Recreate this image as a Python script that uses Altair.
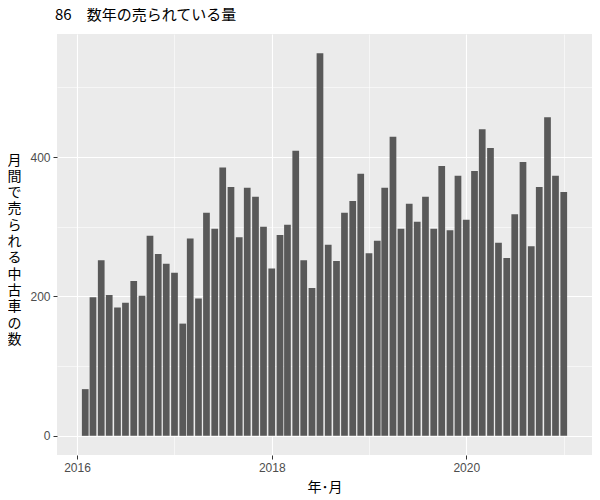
import altair as alt
import pandas as pd

# Months (first of each month, 2016-02 .. 2021-01)
months = []
for y in range(2016, 2022):
    for m in range(1, 13):
        if (y == 2016 and m == 1) or (y == 2021 and m > 1):
            continue
        months.append(f"{y}-{m:02d}-01")

counts = [67, 199, 252, 202, 184, 191, 222, 201, 287, 261, 247, 234,
          161, 283, 197, 320, 297, 385, 357, 285, 356, 343, 300, 240,
          288, 303, 409, 252, 212, 549, 274, 251, 320, 337, 376, 262,
          280, 356, 429, 297, 333, 307, 343, 297, 387, 295, 373, 310,
          380, 440, 413, 277, 255, 318, 393, 272, 357, 457, 373, 350]

year_ticks = [2016, 2017, 2018, 2019, 2020, 2021]
y_ticks = [0, 100, 200, 300, 400, 500]

title_text = "86　数年の売られている量"
x_title = "年･月"
y_title_chars = list("月間で売られる中古車の数")

df = pd.DataFrame({"month": months, "count": counts})

half_bar_days = 12.6  # ggplot default width 0.9 * 28-day resolution / 2

x_axis = alt.Axis(
    values=[alt.DateTime(year=y, month=1, date=1, utc=True) for y in year_ticks],
    labelExpr="utcyear(datum.value) % 2 == 0 ? utcFormat(datum.value, '%Y') : ''",
    gridColor="white",
    gridWidth={"condition": {"test": "utcyear(datum.value) % 2 == 0", "value": 1.1}, "value": 0.55},
    tickOpacity={"condition": {"test": "utcyear(datum.value) % 2 == 0", "value": 1}, "value": 0},
    tickColor="#333333",
    tickSize=4,
    labelPadding=3,
    labelColor="#4D4D4D",
    labelFontSize=12,
    labelFont="Liberation Sans",
    domain=False,
    title=x_title,
    titleFont="Noto Sans CJK JP",
    titleFontSize=14,
    titleFontWeight="normal",
    titleColor="black",
    titlePadding=7,
)

y_axis = alt.Axis(
    values=y_ticks,
    labelExpr="datum.value % 200 == 0 ? datum.label : ''",
    gridColor="white",
    gridWidth={"condition": {"test": "datum.value % 200 == 0", "value": 1.1}, "value": 0.55},
    tickOpacity={"condition": {"test": "datum.value % 200 == 0", "value": 1}, "value": 0},
    tickColor="#333333",
    tickSize=4,
    labelPadding=3,
    labelColor="#4D4D4D",
    labelFontSize=12,
    labelFont="Liberation Sans",
    domain=False,
    title=y_title_chars,
    titleAngle=0,
    titleFont="Noto Sans CJK JP",
    titleFontSize=14,
    titleFontWeight="normal",
    titleColor="black",
    titleLineHeight=16.3,
    titleAlign="center",
    titleBaseline="top",
    titleX=-43,
    titleY=119,
)

chart = (
    alt.Chart(df)
    .transform_calculate(
        start=f"toDate(datum.month) - {half_bar_days} * 86400000",
        end=f"toDate(datum.month) + {half_bar_days} * 86400000",
    )
    .mark_bar(color="#595959")
    .encode(
        x=alt.X(
            "start:T",
            scale=alt.Scale(
                type="utc",
                domain=[
                    alt.DateTime(year=2015, month=10, date=18, utc=True),
                    alt.DateTime(year=2021, month=4, date=17, utc=True),
                ],
            ),
            axis=x_axis,
        ),
        x2="end:T",
        y=alt.Y(
            "count:Q",
            scale=alt.Scale(domain=[-27.5, 576.5], nice=False, zero=False),
            axis=y_axis,
        ),
        y2=alt.datum(0),
    )
    .properties(
        width=535,
        height=421,
        title=alt.TitleParams(
            title_text,
            anchor="start",
            frame="group",
            font="Noto Sans CJK JP",
            fontSize=15,
            fontWeight="normal",
            color="black",
            baseline="bottom",
            offset=9,
            dy=13,
            dx=-2,
        ),
        autosize=alt.AutoSizeParams(type="none"),
        padding={"left": 49, "top": 26, "right": 0, "bottom": 42},
        background="white",
    )
    .configure_view(fill="#EBEBEB", strokeWidth=0)
)

chart.save("out.html", embed_options={"renderer": "svg", "actions": False})
